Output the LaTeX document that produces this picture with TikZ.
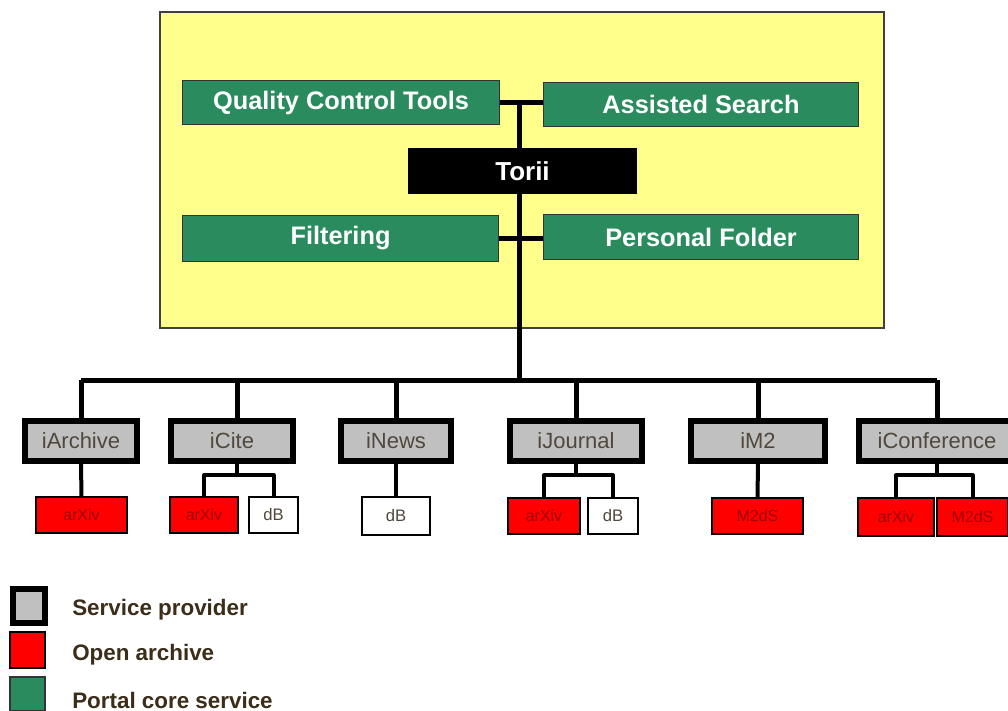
\documentclass[tikz,border=0pt]{standalone}
\usepackage{fontspec}
\setmainfont{Liberation Sans}
\definecolor{bgyellow}{RGB}{255,255,140}
\definecolor{coregreen}{RGB}{42,140,94}
\definecolor{spgray}{RGB}{192,192,192}
\definecolor{oared}{RGB}{255,0,0}
\definecolor{sptext}{RGB}{80,72,60}
\definecolor{oatext}{RGB}{160,0,0}
\definecolor{legtext}{RGB}{60,45,25}
\tikzset{
  core/.style={draw=black!80, line width=1pt, fill=coregreen, text=white, font=\bfseries\fontsize{19}{21}\selectfont, inner sep=0pt},
  hub/.style={fill=black, text=white, font=\bfseries\fontsize{19.5}{21}\selectfont, inner sep=0pt},
  provider/.style={draw=black, line width=4.5pt, fill=spgray, text=sptext, font=\fontsize{16.5}{18}\selectfont, inner sep=0pt},
  archive/.style={draw=black, line width=1pt, fill=oared, text=oatext, font=\fontsize{12}{13}\selectfont, inner sep=0pt},
  dbbox/.style={draw=black, line width=1pt, fill=white, text=sptext, font=\fontsize{12.5}{14}\selectfont, inner sep=0pt},
  bus/.style={line width=3.75pt},
  branch/.style={line width=3pt},
  legendlabel/.style={anchor=west, text=legtext, font=\bfseries\fontsize{16.8}{18}\selectfont, inner sep=0pt}
}
\begin{document}
\begin{tikzpicture}[x=0.75pt, y=-0.75pt]
\useasboundingbox (0,0) rectangle (1008,711);
\fill[white] (0,0) rectangle (1008,711);
% portal frame
\draw[black!75, line width=1pt, fill=bgyellow] (160,12) rectangle (884,328);

% core services
\node[core, minimum width=317*0.75pt, minimum height=44*0.75pt] (qct) at (341,102.5) {Quality Control Tools};
\node[core, minimum width=315*0.75pt, minimum height=44*0.75pt] (as) at (701,104.5) {Assisted Search};
\node[core, minimum width=316*0.75pt, minimum height=46*0.75pt] (filt) at (340.5,238.5) {Filtering};
\node[core, minimum width=315*0.75pt, minimum height=45*0.75pt] (pf) at (701,237) {Personal Folder};
\node[hub, minimum width=229*0.75pt, minimum height=46*0.75pt] (torii) at (522.5,171) {Torii};

\coordinate (j1) at (519,102);
\coordinate (j2) at (519,238);
\coordinate (bus) at (519,380);

% service providers
\node[provider, minimum width=112*0.75pt, minimum height=40*0.75pt] (iarch) at (81,441) {iArchive};
\node[provider, minimum width=122*0.75pt, minimum height=40*0.75pt] (icite) at (232,441) {iCite};
\node[provider, minimum width=110*0.75pt, minimum height=40*0.75pt] (inews) at (396,441) {iNews};
\node[provider, minimum width=132*0.75pt, minimum height=40*0.75pt] (ijour) at (576,441) {iJournal};
\node[provider, minimum width=134*0.75pt, minimum height=40*0.75pt] (im2) at (758,441) {iM2};
\node[provider, minimum width=156*0.75pt, minimum height=40*0.75pt] (iconf) at (937,441) {iConference};

% archives and databases
\node[archive, minimum width=91*0.75pt, minimum height=36*0.75pt] (a1) at (81.5,515) {arXiv};
\node[archive, minimum width=68*0.75pt, minimum height=36*0.75pt] (a2) at (204,515) {arXiv};
\node[dbbox, minimum width=49*0.75pt, minimum height=36*0.75pt] (d2) at (273.5,515) {dB};
\node[dbbox, minimum width=68*0.75pt, minimum height=38*0.75pt] (d3) at (396,516) {dB};
\node[archive, minimum width=72*0.75pt, minimum height=36*0.75pt] (a4) at (544,516) {arXiv};
\node[dbbox, minimum width=50*0.75pt, minimum height=36*0.75pt] (d4) at (613,516) {dB};
\node[archive, minimum width=91*0.75pt, minimum height=36*0.75pt] (a5) at (757.5,516) {M2dS};
\node[archive, minimum width=76*0.75pt, minimum height=38*0.75pt] (a6) at (896,517) {arXiv};
\node[archive, minimum width=71*0.75pt, minimum height=38*0.75pt] (b6) at (972.5,517) {M2dS};

% top connectors
\draw[bus] (qct.east |- j1) -- (as.west |- j1);
\draw[bus] (filt.east |- j2) -- (pf.west |- j2);
\draw[bus] (j1) -- (torii.north -| j1);
\draw[bus] (torii.south -| j1) -- (bus);
\draw[bus] (iarch.north |- bus) -- (iconf.north |- bus);
\foreach \n in {iarch,inews,ijour,im2,iconf}{
  \draw[bus] (\n.north |- bus) -- (\n.north);
}
\draw[bus] (icite.north |- bus) ++(5,0) coordinate (ic) -- (ic |- icite.north);

% lower connectors
\draw[branch] (iarch.south) -- (a1.north);
\draw[branch] (inews.south) -- (d3.north);
\draw[branch] (im2.south) -- (a5.north);
\coordinate (br) at (0,475);
\draw[branch] (ic |- icite.south) -- (ic |- br);
\draw[branch, line join=round] (a2.north) -- (a2.north |- br) -- (d2.north |- br) -- (d2.north);
\draw[branch] (ijour.south) -- (ijour.south |- br);
\draw[branch, line join=round] (a4.north) -- (a4.north |- br) -- (d4.north |- br) -- (d4.north);
\draw[branch] (iconf.south) -- (iconf.south |- br);
\draw[branch, line join=round] (a6.north) -- (a6.north |- br) -- (b6.north |- br) -- (b6.north);

% legend
\node[provider, minimum width=32*0.75pt, minimum height=34*0.75pt] (lsp) at (29,606) {};
\node[archive, minimum width=35*0.75pt, minimum height=36*0.75pt] (loa) at (27.5,650) {};
\node[core, minimum width=35*0.75pt, minimum height=34*0.75pt] (lpc) at (27.5,694) {};
\node[legendlabel] (tsp) at (72,610) {Service provider};
\node[legendlabel] (toa) at (72,655) {Open archive};
\node[legendlabel] (tpc) at (72,700) {Portal core service};
\end{tikzpicture}
\end{document}
